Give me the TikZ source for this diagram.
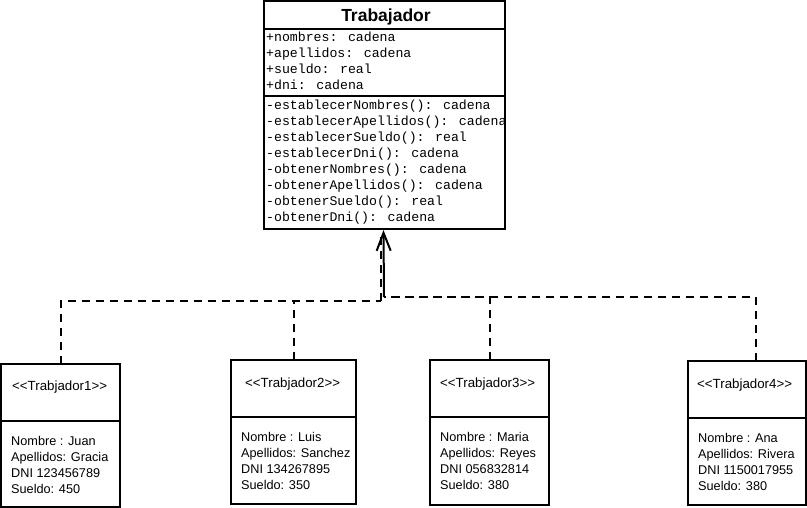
\documentclass[tikz,border=0pt]{standalone}
\usepackage{fontspec}
\setmainfont{Liberation Sans}
\newfontfamily\monof{Liberation Mono}
\usetikzlibrary{arrows.meta}
\begin{document}
\begin{tikzpicture}[x=1pt,y=-1pt,
  box/.style={draw,line width=2pt,inner sep=0pt,outer sep=0pt},
  divline/.style={line width=2pt},
  mono/.style={anchor=base west,inner sep=0pt,font=\monof\fontsize{13.2}{16}\selectfont},
  body/.style={anchor=base west,inner sep=0pt,font=\fontsize{12.7}{16}\selectfont},
  stereo/.style={anchor=base west,inner sep=0pt,font=\fontsize{13.3}{16}\selectfont},
  title/.style={anchor=base,inner sep=0pt,font=\bfseries\fontsize{17.5}{20}\selectfont},
  conn/.style={line width=2pt,dash pattern=on 8pt off 6pt},
  arr/.style={line width=2pt,-{Straight Barb[length=18pt,width=14pt,line width=2pt]}}]
\useasboundingbox (0,0) rectangle (807,508);
% main class
\node[box,minimum width=241pt,minimum height=228pt] (tr) at (384.5,115) {};
\coordinate (trL1) at (264,29.5); \coordinate (trR1) at (505,29.5);
\coordinate (trL2) at (264,96.5); \coordinate (trR2) at (505,96.5);
\draw[divline] (trL1) -- (trR1);
\draw[divline] (trL2) -- (trR2);
\node[title] (trt) at (386,22) {Trabajador};
\node[mono] (a1) at (266,42) {+nombres: cadena};
\node[mono] (a2) at (266,58) {+apellidos: cadena};
\node[mono] (a3) at (266,74) {+sueldo: real};
\node[mono] (a4) at (266,90) {+dni: cadena};
\node[mono] (m1) at (266,110) {-establecerNombres(): cadena};
\node[mono] (m2) at (266,126) {-establecerApellidos(): cadena};
\node[mono] (m3) at (266,142) {-establecerSueldo(): real};
\node[mono] (m4) at (266,158) {-establecerDni(): cadena};
\node[mono] (m5) at (266,174) {-obtenerNombres(): cadena};
\node[mono] (m6) at (266,190) {-obtenerApellidos(): cadena};
\node[mono] (m7) at (266,206) {-obtenerSueldo(): real};
\node[mono] (m8) at (266,222) {-obtenerDni(): cadena};
% child 1
\node[box,minimum width=119pt,minimum height=143pt] (t1) at (60.5,435.5) {};
\coordinate (t1dl) at (1,421); \coordinate (t1dr) at (120,421);
\draw[divline] (t1dl) -- (t1dr);
\node[stereo] (s1) at (12,390) {{<}{<}Trabjador1{>}{>}};
\node[body] (b11) at (11,445) {Nombre : Juan};
\node[body] (b12) at (11,461) {Apellidos: Gracia};
\node[body] (b13) at (11,477) {DNI 123456789};
\node[body] (b14) at (11,493) {Sueldo: 450};
% child 2
\node[box,minimum width=125pt,minimum height=144pt] (t2) at (293.5,432) {};
\coordinate (t2dl) at (231,416.5); \coordinate (t2dr) at (356,416.5);
\draw[divline] (t2dl) -- (t2dr);
\node[stereo] (s2) at (245,387) {{<}{<}Trabjador2{>}{>}};
\node[body] (b21) at (241,441) {Nombre : Luis};
\node[body] (b22) at (241,457) {Apellidos: Sanchez};
\node[body] (b23) at (241,473) {DNI 134267895};
\node[body] (b24) at (241,489) {Sueldo: 350};
% child 3
\node[box,minimum width=119pt,minimum height=145pt] (t3) at (489.5,432.5) {};
\coordinate (t3dl) at (430,417); \coordinate (t3dr) at (549,417);
\draw[divline] (t3dl) -- (t3dr);
\node[stereo] (s3) at (440,387) {{<}{<}Trabjador3{>}{>}};
\node[body] (b31) at (440,441) {Nombre : Maria};
\node[body] (b32) at (440,457) {Apellidos: Reyes};
\node[body] (b33) at (440,473) {DNI 056832814};
\node[body] (b34) at (440,489) {Sueldo: 380};
% child 4
\node[box,minimum width=118pt,minimum height=144pt] (t4) at (747,433) {};
\coordinate (t4dl) at (688,418); \coordinate (t4dr) at (806,418);
\draw[divline] (t4dl) -- (t4dr);
\node[stereo] (s4) at (697,388) {{<}{<}Trabjador4{>}{>}};
\node[body] (b41) at (698,442) {Nombre : Ana};
\node[body] (b42) at (698,458) {Apellidos: Rivera};
\node[body] (b43) at (698,474) {DNI 1150017955};
\node[body] (b44) at (698,490) {Sueldo: 380};
% connectors
\coordinate (jL) at (381,301);
\coordinate (jR) at (384,297);
\coordinate (t4top) at (756,361);
\coordinate (trin) at (383.5,230);
\coordinate (trinL) at (381,235);
\draw[conn] (t1.north) |- (jL);
\draw[conn] (t2.north) -- (t2.north |- jL);
\draw[conn] (jL) -- (trinL);
\draw[conn] (t3.north) |- (jR);
\draw[conn] (t4top) |- (jR);
\draw[arr] (jR) -- (trin);
\end{tikzpicture}
\end{document}
